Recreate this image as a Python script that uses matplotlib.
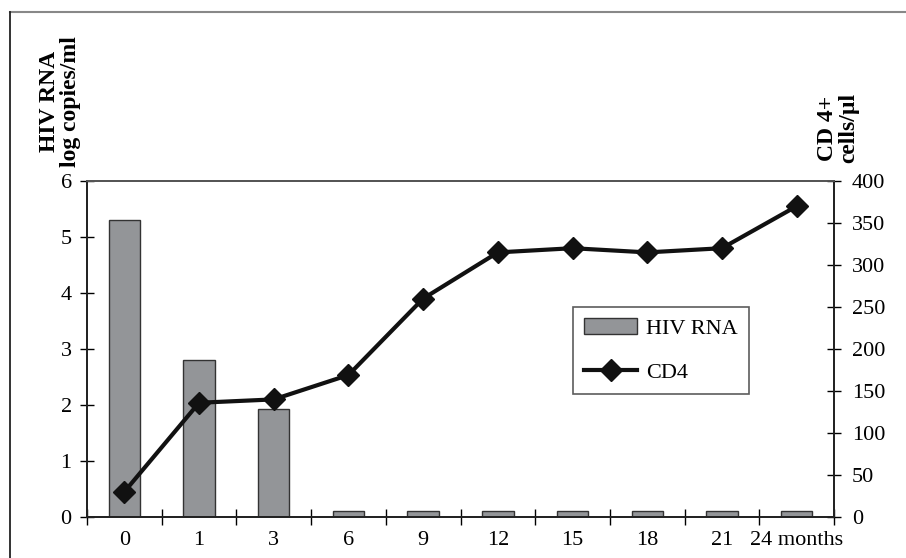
import numpy as np
import matplotlib.pyplot as plt
from matplotlib.lines import Line2D

plt.rcParams['font.family'] = ['Liberation Serif', 'DejaVu Serif']

months = ['0', '1', '3', '6', '9', '12', '15', '18', '21', '24 months']
hiv_rna = [5.3, 2.8, 1.93, 0.11, 0.11, 0.11, 0.11, 0.11, 0.11, 0.11]
cd4 = [30, 136, 140, 169, 260, 315, 320, 315, 320, 370]

fig = plt.figure(figsize=(9.06, 5.58), dpi=100)
ax = fig.add_axes([87 / 906, 1 - 517 / 558, (834 - 87) / 906, (517 - 181) / 558])
ax2 = ax.twinx()

x = np.arange(len(months))
bars = ax.bar(x, hiv_rna, width=0.42, color='#939598', edgecolor='#333333',
              linewidth=1.0, label='HIV RNA', zorder=2)
line, = ax2.plot(x, cd4, color='#111111', lw=3, marker='D', markersize=11,
                 label='CD4', zorder=3)

ax.set_xlim(-0.5, len(months) - 0.5)
ax.set_ylim(0, 6)
ax2.set_ylim(0, 400)
ax.set_yticks(range(0, 7))
ax2.set_yticks(range(0, 401, 50))

# tick marks between categories, labels centred on them
ax.set_xticks(np.arange(-0.5, len(months), 1), minor=False)
ax.set_xticklabels([])
ax.set_xticks(x, minor=True)
ax.set_xticklabels(months, minor=True)
ax.tick_params(axis='x', which='major', direction='inout', length=12, width=1)
ax.tick_params(axis='x', which='minor', length=0, pad=10, labelsize=16)
ax.get_xticklabels(minor=True)[-1].set_x(9.2)
ax.tick_params(axis='y', direction='inout', length=10, width=1, labelsize=16, pad=6)
ax2.tick_params(axis='y', direction='inout', length=10, width=1, labelsize=16, pad=8)

for a in (ax, ax2):
    for s in ('left', 'right', 'bottom'):
        a.spines[s].set_color('#222222')
        a.spines[s].set_linewidth(1.3)
    a.spines['top'].set_color('#555555')
    a.spines['top'].set_linewidth(1.3)
ax.set_zorder(ax2.get_zorder() - 1)
ax2.patch.set_visible(False)

fig.text(60 / 906, 1 - 167 / 558, 'HIV RNA\nlog copies/ml', rotation=90,
         fontsize=17, fontweight='bold', ha='center', va='bottom',
         linespacing=1.0)
fig.text(838 / 906, 1 - 163 / 558, 'CD 4+\ncells/\u00b5l', rotation=90,
         fontsize=17, fontweight='bold', ha='center', va='bottom',
         linespacing=1.0)

leg = ax2.legend([bars, line], ['HIV RNA', 'CD4'], loc='upper left',
                 bbox_to_anchor=((573 - 87) / (834 - 87), (517 - 307) / (517 - 181)),
                 borderaxespad=0, fontsize=16, frameon=True, fancybox=False,
                 edgecolor='#333333', handlelength=2.4, borderpad=0.5,
                 labelspacing=1.05, handletextpad=0.4)
leg.get_frame().set_linewidth(1.2)

fig.add_artist(Line2D([10 / 906, 1], [1 - 12 / 558, 1 - 12 / 558],
                      transform=fig.transFigure, color='#888888', lw=1.5))
fig.add_artist(Line2D([10 / 906, 10 / 906], [0, 1 - 12 / 558],
                      transform=fig.transFigure, color='#222222', lw=1.3))

fig.savefig('out.png', dpi=100)
